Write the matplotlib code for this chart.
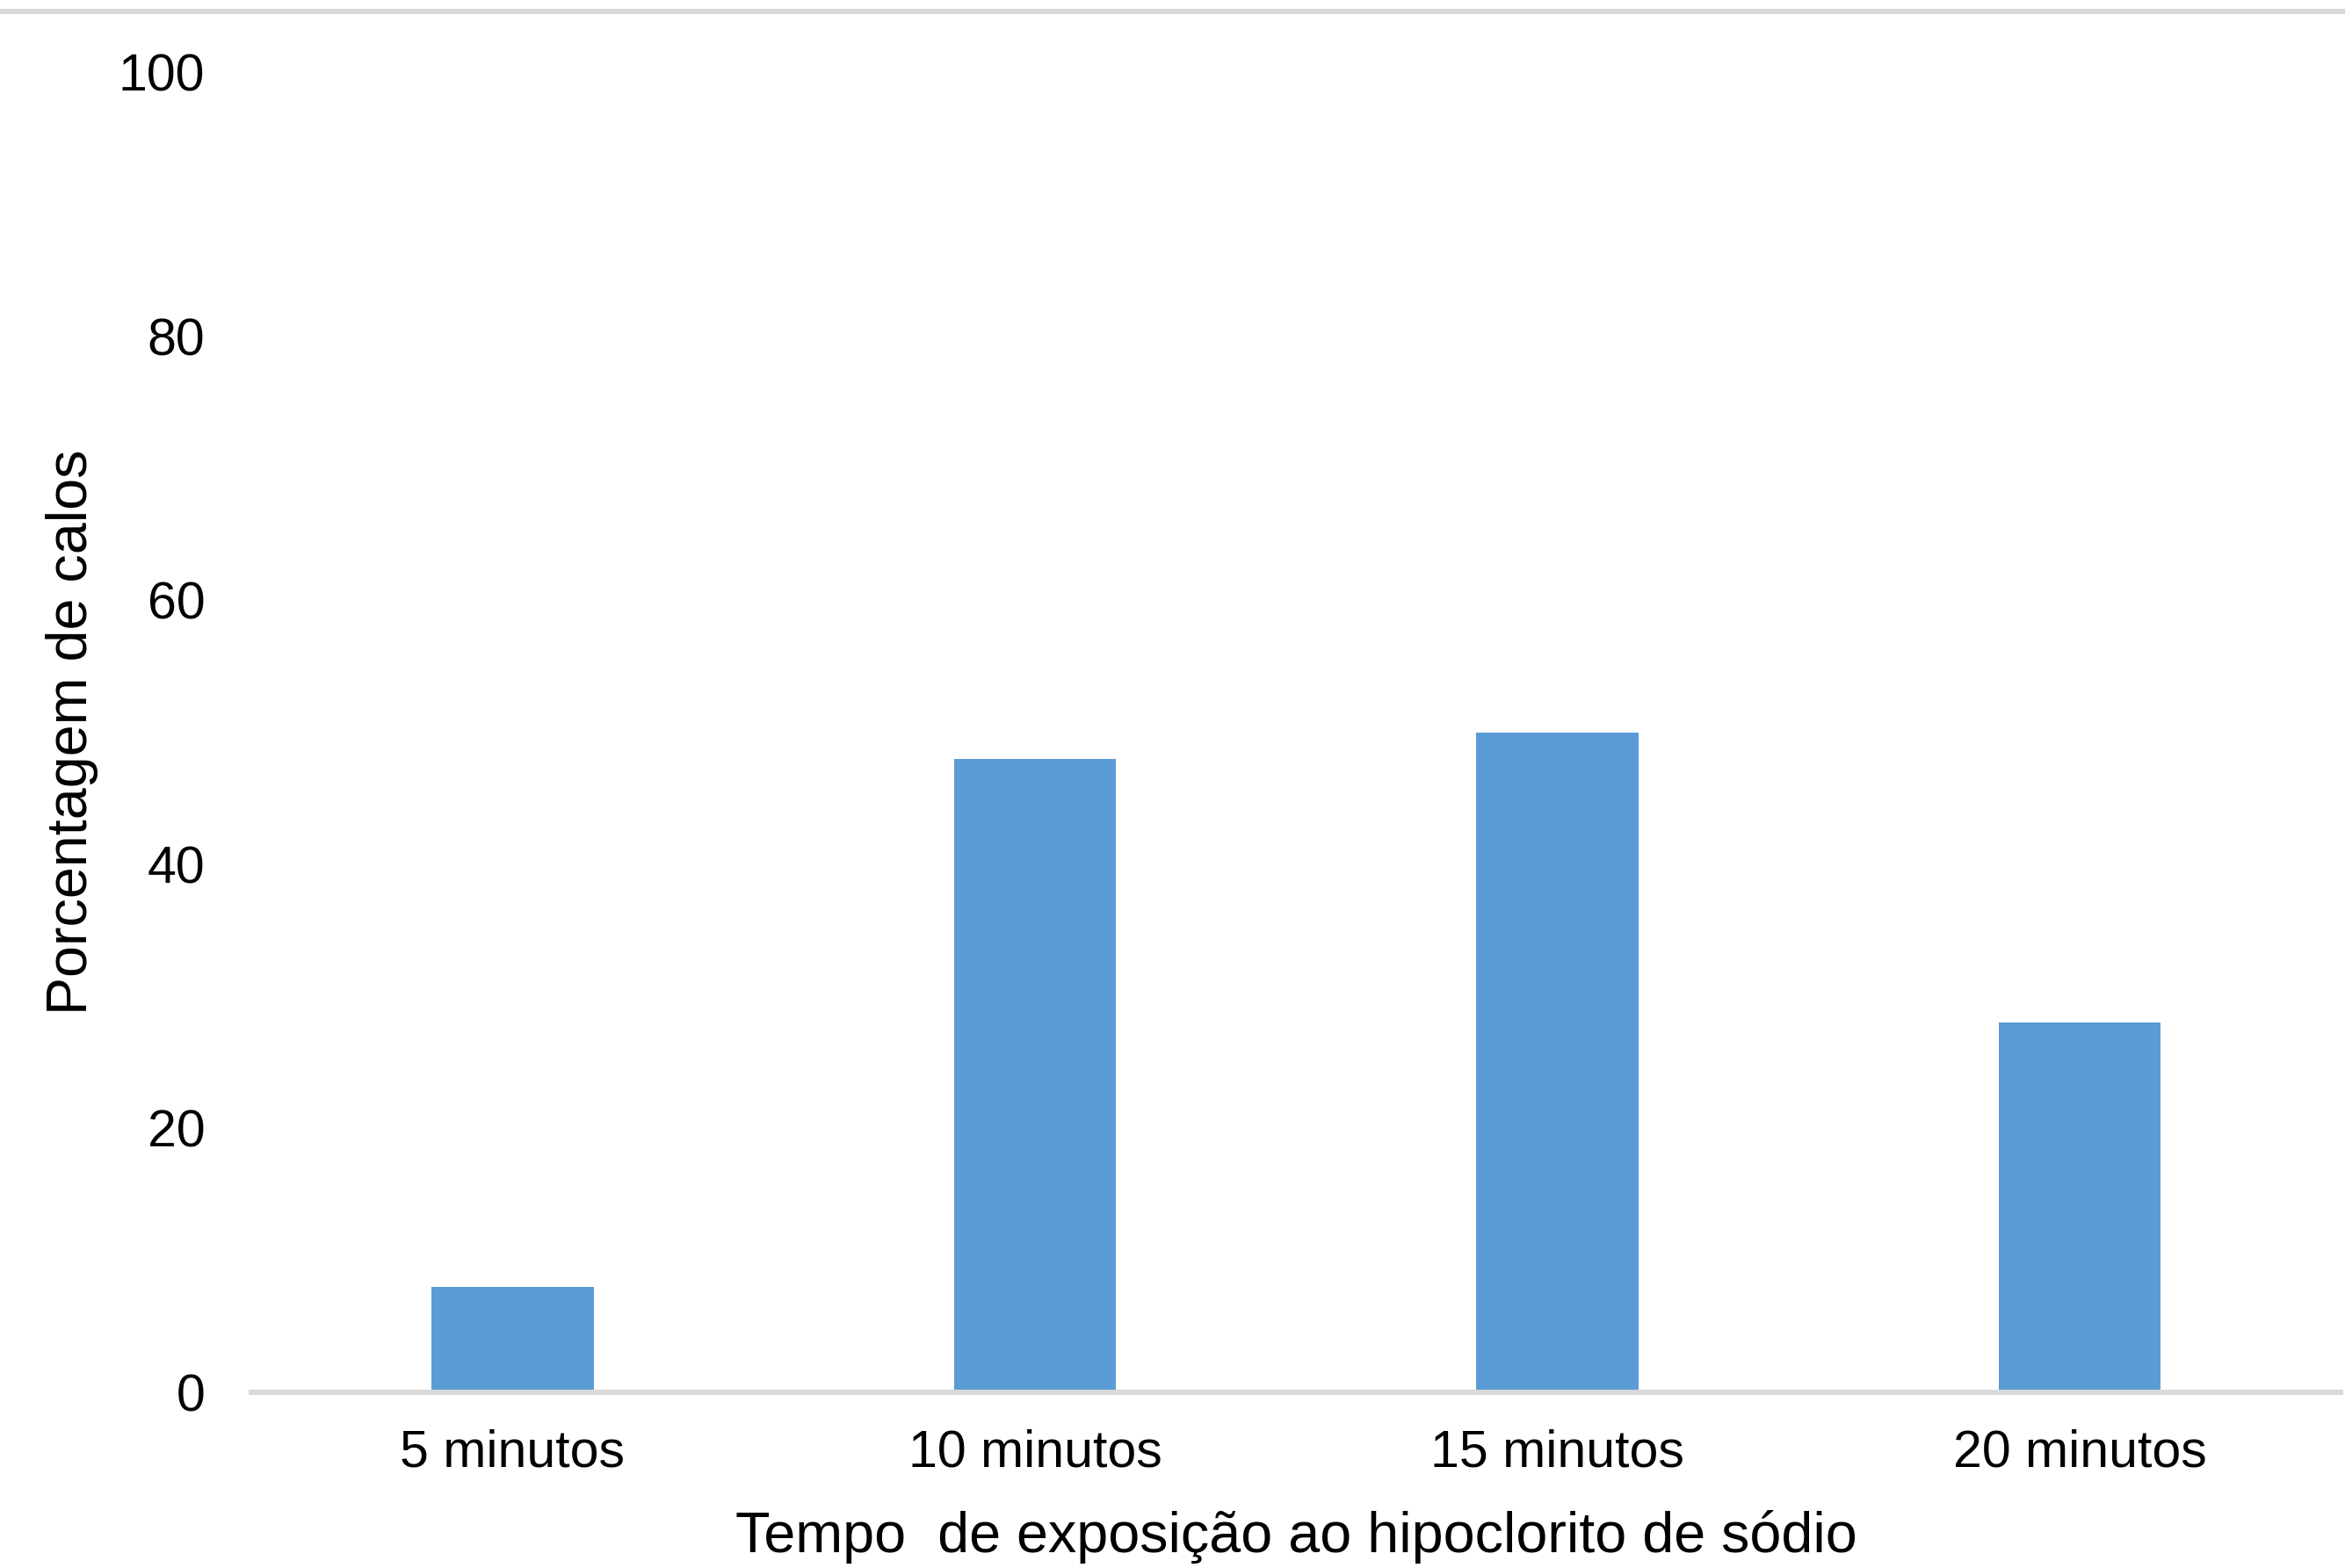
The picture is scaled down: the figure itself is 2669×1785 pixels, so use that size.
import matplotlib
matplotlib.use('Agg')
import matplotlib.pyplot as plt
from matplotlib.lines import Line2D

# data
categorias = ['5 minutos', '10 minutos', '15 minutos', '20 minutos']
porcentagem = [8, 48, 50, 28]
y_ticks = [0, 20, 40, 60, 80, 100]

plt.rcParams['font.family'] = ['Liberation Sans', 'DejaVu Sans']

fig = plt.figure(figsize=(26.69, 17.85), dpi=100, facecolor='white')
ax = fig.add_axes([0.1072, 0.1120, 0.891, 0.842])

x = list(range(len(categorias)))
ax.bar(x, porcentagem, width=0.31, color='#5B9BD5', zorder=2)

ax.set_xlim(-0.5, len(categorias) - 0.5)
ax.set_ylim(0, 100)
ax.set_xticks(x)
ax.set_xticklabels(categorias)
ax.set_yticks(y_ticks)

for s in ['top', 'right', 'left']:
    ax.spines[s].set_visible(False)
ax.spines['bottom'].set_color('#d9d9d9')
ax.spines['bottom'].set_linewidth(4.3)
ax.spines['bottom'].set_zorder(3)

ax.tick_params(axis='both', length=0, labelsize=42.5, colors='black')
ax.tick_params(axis='x', pad=30)
ax.tick_params(axis='y', pad=38)

ax.set_xlabel('Tempo  de exposição ao hipoclorito de sódio', fontsize=46.5, va='center')
ax.xaxis.set_label_coords(0.5, -0.1095)
ax.set_ylabel('Porcentagem de calos', fontsize=46.5, va='center')
ax.yaxis.set_label_coords(-0.0858, 0.5)

# grey border line at the top of the chart area
fig.add_artist(Line2D([0, 1], [1 - 13 / 1785, 1 - 13 / 1785], color='#d9d9d9', linewidth=4.3,
                      transform=fig.transFigure))

fig.savefig('out.png', dpi=100, facecolor='white')
